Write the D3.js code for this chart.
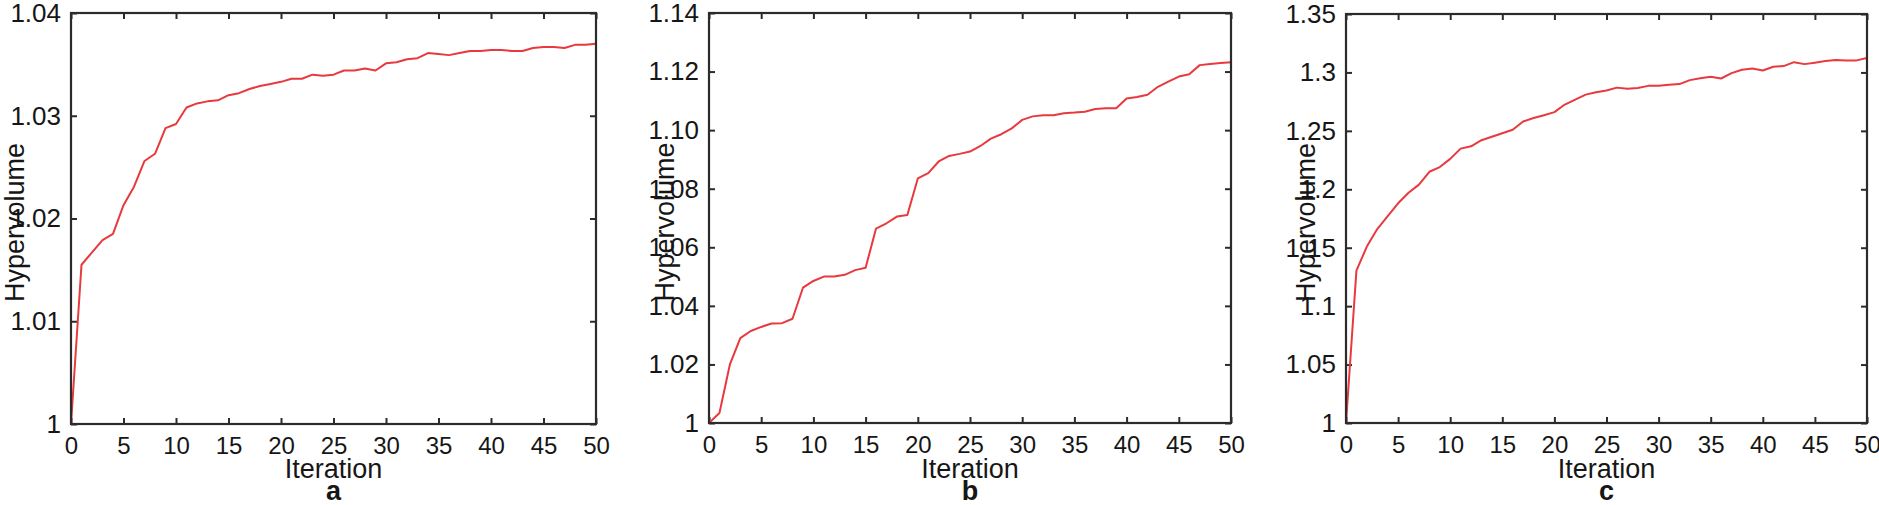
<!DOCTYPE html>
<html><head><meta charset="utf-8">
<script src="https://cdn.jsdelivr.net/npm/d3@7"></script>
<style>body{margin:0;background:#fff}svg{display:block}</style>
</head><body>
<svg id="chart" width="1879" height="505"></svg>
<script>
const iterations = d3.range(0, 51);
const seriesA = [1.0000,1.0155,1.0167,1.0179,1.0185,1.0213,1.0231,1.0256,1.0263,1.0288,1.0292,1.0308,1.0312,1.0314,1.0315,1.0320,1.0322,1.0326,1.0329,1.0331,1.0333,1.0336,1.0336,1.0340,1.0339,1.0340,1.0344,1.0344,1.0346,1.0344,1.0351,1.0352,1.0355,1.0356,1.0361,1.0360,1.0359,1.0361,1.0363,1.0363,1.0364,1.0364,1.0363,1.0363,1.0366,1.0367,1.0367,1.0366,1.0369,1.0369,1.0370];
const seriesB = [1.0000,1.0034,1.0200,1.0290,1.0314,1.0328,1.0340,1.0341,1.0356,1.0462,1.0485,1.0500,1.0500,1.0506,1.0522,1.0530,1.0664,1.0682,1.0705,1.0710,1.0835,1.0853,1.0893,1.0912,1.0919,1.0927,1.0946,1.0971,1.0986,1.1006,1.1035,1.1047,1.1051,1.1051,1.1058,1.1060,1.1063,1.1072,1.1075,1.1075,1.1108,1.1113,1.1121,1.1148,1.1166,1.1183,1.1191,1.1222,1.1226,1.1229,1.1232];
const seriesC = [1.0000,1.1304,1.1510,1.1660,1.1770,1.1880,1.1970,1.2040,1.2150,1.2190,1.2260,1.2348,1.2368,1.2420,1.2450,1.2480,1.2510,1.2580,1.2610,1.2634,1.2660,1.2725,1.2768,1.2810,1.2830,1.2845,1.2870,1.2860,1.2866,1.2885,1.2885,1.2894,1.2900,1.2934,1.2951,1.2963,1.2948,1.2994,1.3023,1.3034,1.3017,1.3048,1.3054,1.3088,1.3071,1.3083,1.3097,1.3106,1.3103,1.3103,1.3123];
const xTicks = [0,5,10,15,20,25,30,35,40,45,50];
const yTicksA = [1,1.01,1.02,1.03,1.04];
const yTickLabelsA = ["1","1.01","1.02","1.03","1.04"];
const yTicksB = [1,1.02,1.04,1.06,1.08,1.10,1.12,1.14];
const yTickLabelsB = ["1","1.02","1.04","1.06","1.08","1.10","1.12","1.14"];
const yTicksC = [1,1.05,1.1,1.15,1.2,1.25,1.3,1.35];
const yTickLabelsC = ["1","1.05","1.1","1.15","1.2","1.25","1.3","1.35"];
const panelLetters = ["a","b","c"];
const xLabel = "Iteration";
const yLabel = "Hypervolume";

const panels = [
  {series: seriesA, ticks: yTicksA, labels: yTickLabelsA, domain:[1,1.04], box:{l:71,r:596,t:13,b:424}, ylabX:24},
  {series: seriesB, ticks: yTicksB, labels: yTickLabelsB, domain:[1,1.14], box:{l:709,r:1231,t:13,b:423}, ylabX:674},
  {series: seriesC, ticks: yTicksC, labels: yTickLabelsC, domain:[1,1.35], box:{l:1346,r:1867,t:14,b:423}, ylabX:1315}
];

const svg = d3.select("#chart");
const font = "'Liberation Sans', Arial, sans-serif";
const axisColor = "#2b2b2b";
const textColor = "#161616";

panels.forEach((p, i) => {
  const b = p.box;
  const x = d3.scaleLinear().domain([0,50]).range([b.l, b.r]);
  const y = d3.scaleLinear().domain(p.domain).range([b.b, b.t]);
  const g = svg.append("g");

  const tl = 6;
  const bottom = d3.axisBottom(x).tickValues(xTicks).tickSize(-tl).tickFormat(d3.format("d")).tickPadding(13);
  const top = d3.axisTop(x).tickValues(xTicks).tickSize(-tl).tickFormat("");
  const left = d3.axisLeft(y).tickValues(p.ticks).tickSize(-tl).tickFormat((d,j)=>p.labels[j]).tickPadding(10);
  const right = d3.axisRight(y).tickValues(p.ticks).tickSize(-tl).tickFormat("");

  [[bottom,`translate(0,${b.b})`,24],[top,`translate(0,${b.t})`,24],[left,`translate(${b.l},0)`,26],[right,`translate(${b.r},0)`,26]].forEach(([ax,tr,fs])=>{
    const a = g.append("g").attr("transform", tr).call(ax);
    a.select(".domain").remove();
    a.selectAll(".tick line").attr("stroke", axisColor).attr("stroke-width", 2);
    a.selectAll("text").attr("font-family", font).attr("font-size", fs).attr("fill", textColor);
  });

  g.append("path")
    .datum(p.series)
    .attr("fill","none")
    .attr("stroke","#e8393e")
    .attr("stroke-width",2)
    .attr("stroke-linejoin","round")
    .attr("d", d3.line().x((d,j)=>x(iterations[j])).y(d=>y(d)));

  g.append("rect").attr("x",b.l).attr("y",b.t).attr("width",b.r-b.l).attr("height",b.b-b.t)
    .attr("fill","none").attr("stroke",axisColor).attr("stroke-width",2.2);

  const cx = (b.l+b.r)/2;
  g.append("text").attr("x",cx).attr("y",478).attr("text-anchor","middle")
    .attr("font-family",font).attr("font-size",27).attr("fill",textColor).text(xLabel);
  g.append("text").attr("x",cx).attr("y",500).attr("text-anchor","middle")
    .attr("font-family",font).attr("font-size",27).attr("font-weight","bold").attr("fill",textColor).text(panelLetters[i]);
  g.append("text").attr("transform",`translate(${p.ylabX},${(b.t+b.b)/2 + 4}) rotate(-90)`).attr("text-anchor","middle")
    .attr("font-family",font).attr("font-size",27).attr("fill",textColor).text(yLabel);
});
</script>
</body></html>
